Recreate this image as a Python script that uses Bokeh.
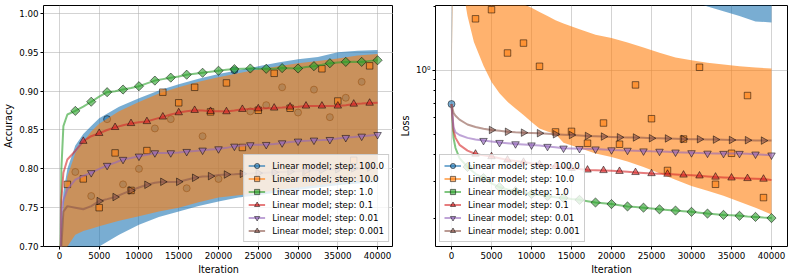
import numpy as np
from bokeh.plotting import figure
from bokeh.layouts import row
from bokeh.models import (Range1d, FixedTicker, NumeralTickFormatter, CustomJSTickFormatter,
                          Legend, LegendItem)
from bokeh.embed import file_html
from bokeh.resources import INLINE

# ---------------- data ----------------
LABELS = ["Linear model; step: 100.0", "Linear model; step: 10.0", "Linear model; step: 1.0",
          "Linear model; step: 0.1", "Linear model; step: 0.01", "Linear model; step: 0.001"]
COLORS = ["#1f77b4", "#ff7f0e", "#2ca02c", "#d62728", "#9467bd", "#8c564b"]
MARK_START = [0, 1000, 2000, 3000, 4000, 5000]   # first marked iteration of each series

ITER = [0, 250, 500] + list(range(1000, 41000, 1000))

# smooth series, accuracy
ACC_STEP1 = [0.55, 0.80, 0.855,
             0.870, 0.8746, 0.880, 0.8864, 0.893, 0.8987, 0.900, 0.9021, 0.904, 0.9064,
             0.910, 0.9136, 0.9155, 0.9174, 0.919, 0.9212, 0.9225, 0.9237, 0.925, 0.9263,
             0.9275, 0.9284, 0.929, 0.9292, 0.929, 0.9288, 0.929, 0.9297, 0.9295, 0.9292,
             0.931, 0.9322, 0.934, 0.936, 0.937, 0.9377, 0.938, 0.9377, 0.939, 0.9398]
ACC_STEP01 = [0.55, 0.76, 0.795,
              0.812, 0.823, 0.8356, 0.842, 0.8458, 0.850, 0.8534, 0.856, 0.8585, 0.860,
              0.861, 0.864, 0.8669, 0.870, 0.8724, 0.874, 0.8754, 0.875, 0.8741, 0.874,
              0.8737, 0.875, 0.8767, 0.877, 0.8775, 0.878, 0.8784, 0.879, 0.8797, 0.880,
              0.881, 0.881, 0.881, 0.881, 0.881, 0.882, 0.8835, 0.884, 0.8847, 0.885]
ACC_STEP001 = [0.55, 0.745, 0.76,
               0.7735, 0.786, 0.791, 0.7949, 0.800, 0.8043, 0.808, 0.812, 0.814, 0.8162,
               0.818, 0.8205, 0.8205, 0.8205, 0.821, 0.8222, 0.823, 0.8239, 0.825, 0.8256,
               0.827, 0.829, 0.830, 0.8308, 0.831, 0.8312, 0.832, 0.8333, 0.8345, 0.8355,
               0.836, 0.8368, 0.837, 0.8376, 0.839, 0.8402, 0.841, 0.8419, 0.843, 0.844]
ACC_STEP0001 = [0.55, 0.70, 0.745,
                0.752, 0.750, 0.748, 0.752, 0.7585, 0.761, 0.7637, 0.768, 0.7722, 0.776,
                0.7795, 0.782, 0.7833, 0.783, 0.7833, 0.786, 0.7885, 0.790, 0.7906, 0.792,
                0.7927, 0.793, 0.7936, 0.794, 0.7945, 0.795, 0.7955, 0.796, 0.7965, 0.797,
                0.7975, 0.798, 0.7985, 0.799, 0.7995, 0.800, 0.8005, 0.801, 0.8015, 0.802]

# smooth series, loss
LOSS_STEP1 = [0.693, 0.48, 0.43,
              0.385, 0.35, 0.325, 0.31, 0.293, 0.281, 0.274, 0.269, 0.265, 0.261,
              0.258, 0.255, 0.252, 0.250, 0.247, 0.245, 0.2415, 0.238, 0.236, 0.234,
              0.231, 0.228, 0.2265, 0.225, 0.223, 0.221, 0.2195, 0.218, 0.2165, 0.215,
              0.213, 0.211, 0.2095, 0.208, 0.207, 0.206, 0.2045, 0.2035, 0.202, 0.201]
LOSS_STEP01 = [0.693, 0.52, 0.48,
               0.445, 0.418, 0.403, 0.397, 0.392, 0.385, 0.378, 0.373, 0.369, 0.364,
               0.360, 0.356, 0.352, 0.348, 0.345, 0.342, 0.339, 0.338, 0.337, 0.3355,
               0.334, 0.332, 0.330, 0.328, 0.326, 0.325, 0.324, 0.3225, 0.321, 0.3195,
               0.318, 0.316, 0.314, 0.3125, 0.311, 0.310, 0.309, 0.308, 0.307, 0.304]
LOSS_STEP001 = [0.693, 0.54, 0.51,
                0.495, 0.48, 0.472, 0.466, 0.461, 0.456, 0.453, 0.4495, 0.447, 0.444,
                0.442, 0.437, 0.433, 0.429, 0.428, 0.427, 0.426, 0.425, 0.423, 0.421,
                0.420, 0.419, 0.4175, 0.416, 0.415, 0.4145, 0.413, 0.411, 0.4095, 0.408,
                0.407, 0.406, 0.4055, 0.405, 0.405, 0.405, 0.4035, 0.402, 0.400, 0.398]
LOSS_STEP0001 = [0.693, 0.63, 0.61,
                 0.585, 0.555, 0.54, 0.53, 0.523, 0.518, 0.513, 0.51, 0.508, 0.5065,
                 0.505, 0.502, 0.499, 0.497, 0.495, 0.4925, 0.490, 0.4885, 0.487, 0.485,
                 0.483, 0.4825, 0.482, 0.480, 0.478, 0.4775, 0.477, 0.4755, 0.474, 0.4735,
                 0.473, 0.472, 0.471, 0.470, 0.469, 0.4685, 0.468, 0.467, 0.466, 0.466]

# oscillating series (step 100 and step 10): envelopes of the oscillation
BAND_X_ACC = [0, 250, 500, 1000, 2000, 3000, 4000, 5000, 7500, 10000, 12500, 15000,
              17500, 20000, 22500, 25000, 27500, 30000, 32500, 35000, 37500, 40000]
ACC_STEP100_HI = [0.55, 0.72, 0.77, 0.80, 0.83, 0.845, 0.855, 0.865, 0.880, 0.891, 0.901,
                  0.909, 0.916, 0.922, 0.927, 0.932, 0.937, 0.941, 0.944, 0.950, 0.952, 0.953]
ACC_STEP100_LO = [0.55, 0.60, 0.65, 0.68, 0.685, 0.69, 0.69, 0.70, 0.715, 0.728, 0.738,
                  0.745, 0.752, 0.758, 0.763, 0.766, 0.770, 0.773, 0.776, 0.779, 0.781, 0.783]
ACC_STEP10_HI = [0.55, 0.70, 0.75, 0.79, 0.82, 0.835, 0.848, 0.858, 0.874, 0.886, 0.897,
                 0.905, 0.912, 0.918, 0.923, 0.928, 0.932, 0.936, 0.939, 0.942, 0.946, 0.948]
ACC_STEP10_LO = [0.55, 0.62, 0.66, 0.70, 0.715, 0.72, 0.723, 0.726, 0.733, 0.739, 0.745,
                 0.750, 0.757, 0.763, 0.766, 0.769, 0.773, 0.776, 0.779, 0.782, 0.784, 0.786]

BAND_X_LOSS = [0, 250, 1000, 2000, 2800, 4000, 5000, 6000, 7000, 8000, 9000, 10000, 11000,
               12000, 13000, 14000, 16000, 18000, 20000, 22000, 24000, 26000, 28000, 30000,
               32000, 34000, 36000, 38000, 40000]
LOSS_STEP100_HI = [0.693, 50, 50, 50, 50, 50, 50, 50, 50, 50, 50, 50, 50,
                   50, 50, 50, 50, 50, 50, 50, 50, 50, 50, 50,
                   50, 50, 50, 50, 50]
LOSS_STEP100_LO = [0.693, 8.0, 8.0, 6.0, 5.0, 5.0, 5.0, 4.5, 4.5, 4.0, 4.0, 3.8, 3.6,
                   3.5, 3.4, 3.3, 3.1, 2.9, 2.7, 2.6, 2.5, 2.4, 2.3, 2.12,
                   2.0, 1.9, 1.8, 1.7, 1.68]
LOSS_STEP10_HI = [0.693, 40, 40, 30, 20, 10, 6.0, 4.0, 3.0, 2.3, 2.05, 1.97, 1.88,
                  1.80, 1.72, 1.66, 1.56, 1.47, 1.42, 1.35, 1.28, 1.21, 1.15, 1.115,
                  1.085, 1.065, 1.045, 1.03, 1.02]
LOSS_STEP10_LO = [0.693, 6.0, 3.0, 1.8, 1.36, 1.05, 0.88, 0.78, 0.71, 0.66, 0.615, 0.57, 0.532,
                  0.515, 0.50, 0.455, 0.43, 0.405, 0.39, 0.371, 0.35, 0.327, 0.305, 0.285,
                  0.27, 0.256, 0.24, 0.225, 0.209]

# sampled (marked) points of the oscillating series
ACC_STEP100_MK_X = list(range(2000, 40000, 2000))
ACC_STEP100_MK = [0.796, 0.765, 0.864, 0.780, 0.800, 0.852, 0.864, 0.775, 0.842, 0.787,
                  0.927, 0.874, 0.882, 0.905, 0.8725, 0.902, 0.8665, 0.8915, 0.912]
ACC_STEP10_MK_X = list(range(1000, 40000, 2000))
ACC_STEP10_MK = [0.780, 0.787, 0.750, 0.8205, 0.7722, 0.8235, 0.8987, 0.885, 0.905, 0.8733,
                 0.9106, 0.8275, 0.8754, 0.923, 0.878, 0.795, 0.9288, 0.8873, 0.811, 0.9326]
LOSS_STEP100_MK_X = [0]
LOSS_STEP100_MK = [0.693]
LOSS_STEP10_MK_X = list(range(3000, 40000, 2000))
LOSS_STEP10_MK = [1.748, 1.93, 1.206, 1.343, 1.044, 0.512, 0.515, 0.453, 0.564, 0.448,
                  0.853, 0.591, 0.337, 0.474, 1.033, 0.29, 0.406, 0.76, 0.251]

X_TICKS = list(range(0, 40001, 5000))
ACC_TICKS = [0.70, 0.75, 0.80, 0.85, 0.90, 0.95, 1.00]
LOSS_MAJOR = [1.0]
LOSS_MINOR = [0.2, 0.3, 0.4, 0.5, 0.6, 0.7, 0.8, 0.9, 2.0]

# ---------------- drawing ----------------
FONT = "DejaVu Sans"
ALPHA = 0.6
MARKER_KW = [dict(marker="circle", size=7, angle=0.0),
             dict(marker="square", size=6.5, angle=0.0),
             dict(marker="square", size=6.5, angle=np.pi / 4),
             dict(marker="triangle", size=7.5, angle=0.0),
             dict(marker="inverted_triangle", size=7.5, angle=0.0),
             dict(marker="triangle", size=7.5, angle=-np.pi / 2)]


def style(p):
    p.outline_line_color = "black"
    p.outline_line_width = 1
    p.outline_line_alpha = 1
    p.background_fill_color = "white"
    p.border_fill_color = "white"
    for ax in p.axis:
        ax.axis_line_color = None
        ax.major_tick_out = 3
        ax.major_tick_in = 0
        ax.major_tick_line_color = "black"
        ax.minor_tick_line_color = None
        ax.major_label_text_font = FONT
        ax.major_label_text_font_size = "8.7px"
        ax.major_label_text_color = "black"
        ax.major_label_standoff = 2
        ax.axis_label_text_font = FONT
        ax.axis_label_text_font_size = "9.6px"
        ax.axis_label_text_font_style = "normal"
        ax.axis_label_text_color = "black"
        ax.axis_label_standoff = 2
    p.grid.grid_line_color = "#b0b0b0"
    p.grid.grid_line_alpha = 0.7
    p.grid.grid_line_width = 0.8


def marked(xs, ys, start):
    xs = np.asarray(xs)
    ys = np.asarray(ys)
    m = (xs >= start) & ((xs - start) % 2000 == 0)
    return xs[m], ys[m]


def add_band_series(p, i, bx, lo, hi, mx, my):
    c = COLORS[i]
    p.varea(x=bx, y1=lo, y2=hi, fill_color=c, fill_alpha=ALPHA)
    # legend-only line sample (the band above is this series' oscillating line)
    ln = p.line(x=[np.nan], y=[np.nan], line_color=c, line_alpha=ALPHA, line_width=2)
    mk = p.scatter(x=mx, y=my, fill_color=c, fill_alpha=ALPHA, line_color="black",
                   line_alpha=0.5, line_width=1, **MARKER_KW[i])
    return LegendItem(label=LABELS[i], renderers=[ln, mk])


def add_smooth_series(p, i, ys):
    c = COLORS[i]
    ln = p.line(x=ITER, y=ys, line_color=c, line_alpha=ALPHA, line_width=2)
    mx, my = marked(ITER, ys, MARK_START[i])
    mk = p.scatter(x=mx, y=my, fill_color=c, fill_alpha=ALPHA, line_color="black",
                   line_alpha=0.5, line_width=1, **MARKER_KW[i])
    return LegendItem(label=LABELS[i], renderers=[ln, mk])


LEGEND_STYLE = dict(label_text_font=FONT, label_text_font_size="8.7px",
                    label_text_color="black", glyph_width=17, glyph_height=13,
                    label_height=13, spacing=0, padding=4, margin=4, label_standoff=7,
                    border_line_color="#cccccc", border_line_alpha=1,
                    background_fill_color="white", background_fill_alpha=0.8)

H = 277

# ---- left: accuracy ----
p1 = figure(width=393, height=H, x_range=Range1d(-2000, 42000),
            y_range=Range1d(0.70, 1.0103), output_backend="svg", toolbar_location=None,
            min_border_left=41, min_border_right=0, min_border_top=5, min_border_bottom=20)
style(p1)
p1.xaxis.ticker = FixedTicker(ticks=X_TICKS)
p1.xaxis.formatter = NumeralTickFormatter(format="0")
p1.yaxis.ticker = FixedTicker(ticks=ACC_TICKS)
p1.yaxis.formatter = NumeralTickFormatter(format="0.00")
p1.xaxis.axis_label = "Iteration"
p1.yaxis.axis_label = "Accuracy"

items1 = [
    add_band_series(p1, 0, BAND_X_ACC, ACC_STEP100_LO, ACC_STEP100_HI, ACC_STEP100_MK_X, ACC_STEP100_MK),
    add_band_series(p1, 1, BAND_X_ACC, ACC_STEP10_LO, ACC_STEP10_HI, ACC_STEP10_MK_X, ACC_STEP10_MK),
    add_smooth_series(p1, 2, ACC_STEP1),
    add_smooth_series(p1, 3, ACC_STEP01),
    add_smooth_series(p1, 4, ACC_STEP001),
    add_smooth_series(p1, 5, ACC_STEP0001),
]
p1.add_layout(Legend(items=items1, location="bottom_right", **LEGEND_STYLE))

# ---- right: loss (log) ----
p2 = figure(width=400, height=H, x_range=Range1d(-2000, 42000),
            y_range=Range1d(0.1476, 2.02), y_axis_type="log",
            output_backend="svg", toolbar_location=None,
            min_border_left=42, min_border_right=6, min_border_top=5, min_border_bottom=20)
style(p2)
p2.xaxis.ticker = FixedTicker(ticks=X_TICKS)
p2.xaxis.formatter = NumeralTickFormatter(format="0")
p2.yaxis.ticker = FixedTicker(ticks=LOSS_MAJOR, minor_ticks=LOSS_MINOR)
p2.yaxis.minor_tick_line_color = "black"
p2.yaxis.minor_tick_out = 2
p2.yaxis.minor_tick_in = 0
p2.yaxis.formatter = CustomJSTickFormatter(code="""
const sup = {'-':'\u207b','0':'\u2070','1':'\u00b9','2':'\u00b2','3':'\u00b3','4':'\u2074',
             '5':'\u2075','6':'\u2076','7':'\u2077','8':'\u2078','9':'\u2079'};
const e = Math.round(Math.log10(tick));
return '10' + String(e).split('').map(c => sup[c]).join('');
""")
p2.xaxis.axis_label = "Iteration"
p2.yaxis.axis_label = "Loss"

items2 = [
    add_band_series(p2, 0, BAND_X_LOSS, LOSS_STEP100_LO, LOSS_STEP100_HI, LOSS_STEP100_MK_X, LOSS_STEP100_MK),
    add_band_series(p2, 1, BAND_X_LOSS, LOSS_STEP10_LO, LOSS_STEP10_HI, LOSS_STEP10_MK_X, LOSS_STEP10_MK),
    add_smooth_series(p2, 2, LOSS_STEP1),
    add_smooth_series(p2, 3, LOSS_STEP01),
    add_smooth_series(p2, 4, LOSS_STEP001),
    add_smooth_series(p2, 5, LOSS_STEP0001),
]
p2.add_layout(Legend(items=items2, location="bottom_left", **LEGEND_STYLE))

layout = row(p1, p2)
open("out.html", "w").write(file_html(layout, INLINE))
